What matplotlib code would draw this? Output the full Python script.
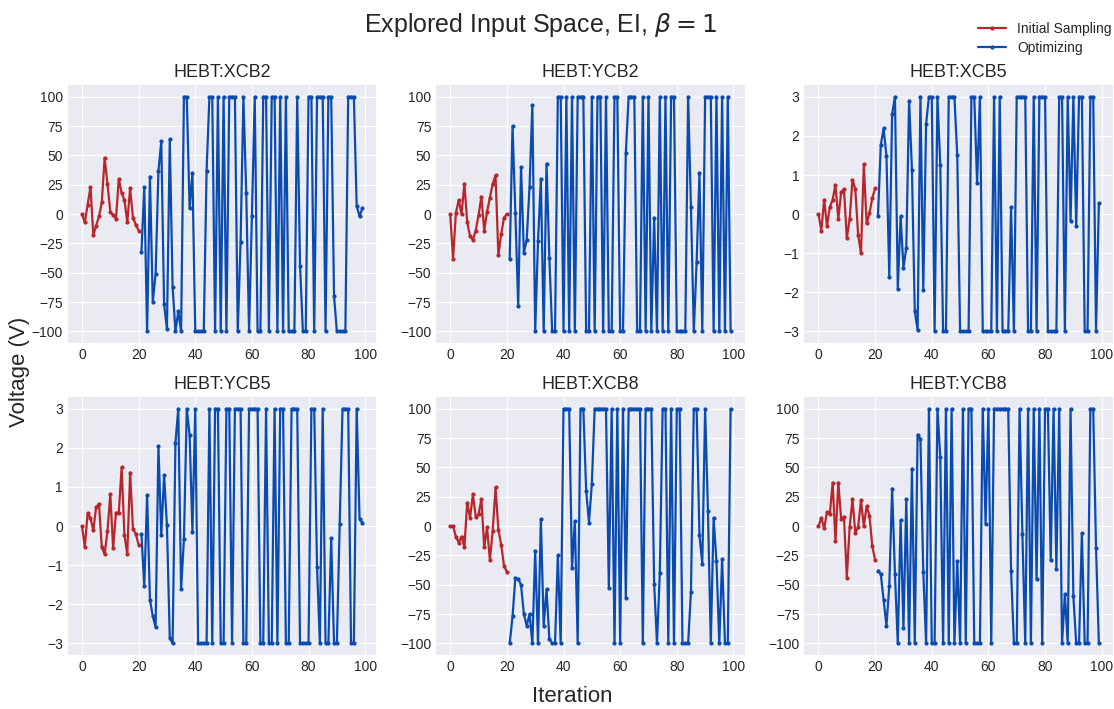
import numpy as np
import matplotlib
matplotlib.use("Agg")
import matplotlib.pyplot as plt

# valores: muestreo inicial (iter 0-20) y optimizacion (iter 21-99)
names = ["HEBT:XCB2", "HEBT:YCB2", "HEBT:XCB5", "HEBT:YCB5", "HEBT:XCB8", "HEBT:YCB8"]

xcb2_init = [0, -7, 8, 23, -18, -10, -2, 10, 48, 26, 2, -1, -4, 30, 18, 12, -7, 22, -3, -9, -14]
xcb2_opt = [-32, 23, -100, 32, -75, -51, 37, 62, -77, -98,
            64, -62, -100, -83, -100, 100, 100, 5, 35, -100,
            -100, -100, -100, 37, 100, 100, -100, 100, -100, 100,
            -100, 100, 100, 100, -100, -24, 100, 18, -100, -2,
            100, -100, -100, 100, 100, -100, 100, 100, -100, 100,
            -100, 100, -100, -100, -100, 100, -44, -100, -100, 100,
            100, -100, 100, 100, 100, -100, 100, 100, -70, -100,
            -100, -100, -100, 100, 100, 100, 7, -2, 5]

ycb2_init = [0, -38, 1, 12, 0, 26, -7, -19, -22, -14, -1, 15, -14, 2, 14, 26, 33, -35, -17, -3, 0]
ycb2_opt = [-38, 75, 1, -78, 40, -33, -22, 23, 93, -100,
            -23, 30, -100, 43, -37, -100, -100, 100, 100, -100,
            100, -100, 100, -100, 100, 100, 100, -100, -100, 100,
            -100, 100, 100, -100, 100, -100, -100, 100, 100, -100,
            -100, 52, 100, 100, 100, -100, -100, 100, -100, 100,
            -100, -3, -100, 100, -100, 100, -100, 100, 100, -100,
            -100, -100, -100, 100, 6, -100, -41, 35, -100, 100,
            100, 100, -100, 100, -100, 100, -100, 100, -100]

xcb5_init = [0, -0.42, 0.37, -0.3, 0.18, 0.37, 0.75, -0.13, 0.56, 0.64, -0.62,
             -0.13, 0.88, 0.64, -0.53, -1.0, 1.27, -0.24, 0.02, 0.41, 0.66]
xcb5_opt = [-0.06, 1.77, 2.19, 1.48, -1.6, 2.56, 3, -1.91, -0.06, -1.37,
            -0.87, 2.9, 1.13, -2.49, -2.96, 3, -1.94, 2.31, 3, 3,
            -3, 3, 1.26, -3, -3, 3, 3, 3, 1.5, -3,
            -3, -3, -3, 3, 3, 0.79, 3, -3, -3, -3,
            -3, 3, -3, 3, -3, -3, -3, 0.18, -3, 3,
            3, 3, 3, -3, -3, 3, -3, 3, 3, 3,
            -3, -3, -3, -3, 3, 3, -3, 3, -0.17, 3,
            -0.31, 3, 3, -3, -3, 3, 3, -3, 0.28]

ycb5_init = [0, -0.53, 0.33, 0.21, -0.11, 0.48, 0.57, -0.54, -0.72, -0.13, 0.81,
             -0.57, 0.34, 0.34, 1.5, -0.24, -0.72, 1.37, -0.08, -0.2, -0.48]
ycb5_opt = [-0.21, -1.54, 0.8, -1.89, -2.3, -2.59, 2.05, -0.24, 1.3, 0.02,
            -2.86, -3, 2.13, 3, -1.61, -0.34, 3, 2.33, -0.14, 3,
            -3, -3, -3, -3, 3, -3, 3, 3, -3, -3,
            3, 3, -3, 3, 3, 3, -3, -3, 3, 3,
            3, 3, -3, -3, 3, -3, -3, 3, -3, 3,
            3, -3, -3, 3, 3, 3, -3, -3, -3, -3,
            3, 3, -1.05, -3, 3, -3, -3, -0.31, -3, -3,
            0.06, 3, 3, 3, -3, -3, 3, 0.19, 0.09]

xcb8_init = [0, 0, -9, -14, -9, -18, 20, 7, 27, 8, 10, 23, -18, -1, -29, -4, 33, -3, -16, -34, -39]
xcb8_opt = [-100, -77, -44, -45, -50, -75, -85, -75, -100, -21,
            -100, 6, -85, -54, -96, -100, -100, -25, -100, 100,
            100, 100, -36, 4, -100, 100, 100, 30, 3, 36,
            100, 100, 100, 100, 100, -53, 100, -100, 100, -100,
            100, -61, 100, 100, 100, 100, 100, -100, 100, 100,
            100, -49, -100, -40, 100, 100, -100, 100, -100, 100,
            100, -100, -100, -100, -56, 100, 100, -8, -32, 100,
            13, -100, 7, -30, -100, -28, -100, -100, 100]

ycb8_init = [0, 7, -2, 12, 10, 37, -13, 37, 6, 8, -44, -1, 23, -6, -1, 22, 0, 17, 9, -17, -29]
ycb8_opt = [-38, -41, -63, -85, -51, 32, -41, -100, 5, -87,
            23, -100, 49, -100, 78, 74, -39, -100, 100, -100,
            -100, 100, 59, -100, 100, -100, 100, -100, -30, -100,
            100, -100, 100, 100, -100, -100, -100, 100, 2, 100,
            -100, 100, 100, 100, 100, 100, 100, -38, -100, -100,
            100, -7, -100, 100, -100, 100, -45, 100, -100, 100,
            100, -29, 100, -37, 100, -100, -58, -100, 100, -60,
            -100, -100, -6, -100, -100, 100, 100, -19, -100]

init_data = [xcb2_init, ycb2_init, xcb5_init, ycb5_init, xcb8_init, ycb8_init]
opt_data = [xcb2_opt, ycb2_opt, xcb5_opt, ycb5_opt, xcb8_opt, ycb8_opt]
limits = [100, 100, 3, 3, 100, 100]

plt.style.use("seaborn-v0_8-darkgrid")
plt.rcParams['font.family'] = ['Liberation Sans', 'DejaVu Sans']

c_init = "#B8262B"
c_opt = "#0A4BB0"

fig, axes = plt.subplots(2, 3, figsize=(11.14, 7.09), dpi=100)
fig.subplots_adjust(left=0.061, right=0.999, top=0.880, bottom=0.076,
                    wspace=0.194, hspace=0.209)

for k, ax in enumerate(axes.flat):
    y0 = init_data[k]
    y1 = opt_data[k]
    x0 = np.arange(len(y0))
    x1 = np.arange(len(y0), len(y0) + len(y1))
    ax.plot(x0, y0, color=c_init, lw=1.6, marker='o', ms=2, label="Initial Sampling")
    ax.plot(x1, y1, color=c_opt, lw=1.6, marker='o', ms=2, label="Optimizing")
    ax.set_title(names[k], fontsize=13)
    ax.set_xticks(np.arange(0, 101, 20))
    if limits[k] == 100:
        ax.set_yticks(np.arange(-100, 101, 25))
    else:
        ax.set_yticks(np.arange(-3, 4, 1))
    ax.tick_params(labelsize=10, colors='.15')

handles, labels = axes[0, 0].get_legend_handles_labels()
fig.legend(handles, labels, loc='upper right', bbox_to_anchor=(1.009, 0.987),
           frameon=False, fontsize=10, labelspacing=0.4)

fig.suptitle(r'Explored Input Space, EI, $\beta = 1$', x=0.485, y=0.985, fontsize=18)
fig.supxlabel('Iteration', x=0.514, y=0.003, fontsize=16)
fig.supylabel('Voltage (V)', x=0.008, y=0.475, fontsize=16)

plt.savefig("out.png", dpi=100)
